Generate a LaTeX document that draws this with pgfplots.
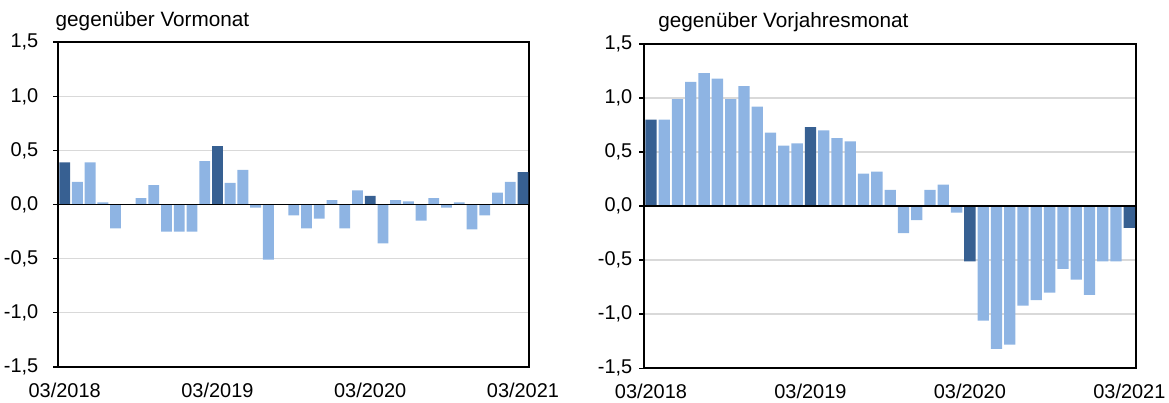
\documentclass[border=0pt]{standalone}
\usepackage{fontspec}
\setmainfont{Liberation Sans}
\usepackage{pgfplots}
\pgfplotsset{compat=1.18}
\definecolor{darkb}{RGB}{55,96,146}
\definecolor{lightb}{RGB}{142,180,227}
\definecolor{gridc}{RGB}{217,217,217}
\pgfplotsset{
  panel/.style={
    scale only axis,
    clip=false,
    anchor=south west,
    xmin=-0.5, xmax=36.5,
    ymin=-1.5, ymax=1.5,
    ytick={-1.5,-1,-0.5,0,0.5,1,1.5},
    xtick={0,12,24,36},
    xticklabels={03/2018,03/2019,03/2020,03/2021},
    x tick style={draw=none},
    ytick pos=left,
    tick align=outside,
    major tick length=2.5bp,
    y tick style={black, line width=0.8bp},
    ymajorgrids,
    major grid style={gridc, line width=0.8bp},
    axis line style={black, line width=0.9bp},
    tick label style={font=\fontsize{10}{12}\selectfont},
    xticklabel style={yshift=-2bp},
    /pgf/number format/.cd, assume math mode=true, use comma, fixed, fixed zerofill, precision=1,
    /pgfplots/.cd,
    ybar, bar width=0.85, bar shift=0pt,
  }
}
\begin{document}
\begin{tikzpicture}
\useasboundingbox (0,0) rectangle (584.5bp,201.5bp);
% Left panel: gegenueber Vormonat
\begin{axis}[panel, at={(29.15bp,18.15bp)}, width=235.5bp, height=162.2bp,
  yticklabel style={xshift=-4bp}]
\addplot[fill=lightb, draw=none] coordinates {
(1,0.21) (2,0.39) (3,0.02) (4,-0.22) (5,0.00) (6,0.06) (7,0.18) (8,-0.25) (9,-0.25) (10,-0.25) (11,0.40)
(13,0.20) (14,0.32) (15,-0.03) (16,-0.51) (17,0.00) (18,-0.10) (19,-0.22) (20,-0.13) (21,0.04) (22,-0.22) (23,0.13)
(25,-0.36) (26,0.04) (27,0.03) (28,-0.15) (29,0.06) (30,-0.03) (31,0.02) (32,-0.23) (33,-0.10) (34,0.11) (35,0.21)
};
\addplot[fill=darkb, draw=none] coordinates {
(0,0.39) (12,0.54) (24,0.08) (36,0.30)
};
\draw[black, line width=0.9bp] (rel axis cs:0,0.5) -- (rel axis cs:1,0.5);
\node[anchor=base west, inner sep=0pt, font=\fontsize{10.4}{12.5}\selectfont] at ([xshift=-1.5bp,yshift=7.8bp]rel axis cs:0,1) {gegenüber Vormonat};
\end{axis}
% Right panel: gegenueber Vorjahresmonat
\begin{axis}[panel, at={(322.15bp,17.35bp)}, width=245.85bp, height=162.15bp,
  yticklabel style={xshift=0bp}]
\addplot[fill=lightb, draw=none] coordinates {
(1,0.80) (2,0.99) (3,1.15) (4,1.23) (5,1.18) (6,0.99) (7,1.11) (8,0.92) (9,0.68) (10,0.56) (11,0.58)
(13,0.70) (14,0.63) (15,0.60) (16,0.30) (17,0.32) (18,0.15) (19,-0.25) (20,-0.13) (21,0.15) (22,0.20) (23,-0.06)
(25,-1.06) (26,-1.32) (27,-1.28) (28,-0.92) (29,-0.87) (30,-0.80) (31,-0.58) (32,-0.68) (33,-0.82) (34,-0.51) (35,-0.51)
};
\addplot[fill=darkb, draw=none] coordinates {
(0,0.80) (12,0.73) (24,-0.51) (36,-0.20)
};
\draw[black, line width=0.9bp] (rel axis cs:0,0.5) -- (rel axis cs:1,0.5);
\node[anchor=base west, inner sep=0pt, font=\fontsize{10.4}{12.5}\selectfont] at ([xshift=6.85bp,yshift=8.3bp]rel axis cs:0,1) {gegenüber Vorjahresmonat};
\end{axis}
\end{tikzpicture}
\end{document}
